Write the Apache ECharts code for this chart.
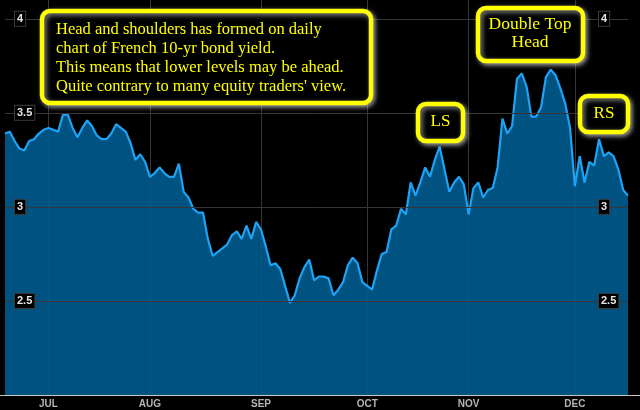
<!DOCTYPE html>
<html>
<head>
<meta charset="utf-8">
<title>French 10-yr bond yield</title>
<script src="https://cdn.jsdelivr.net/npm/echarts@6/dist/echarts.min.js"></script>
<style>
    html,body{margin:0;padding:0;background:#000;}
    #container{width:640px;height:410px;}
</style>
</head>
<body>
<div id="container"></div>
<script>
// daily yield, one value per trading day (late June -> mid Dec)
var yields = [
    3.39,3.40,3.35,3.31,3.30,3.35,3.36,3.39,3.41,3.42,
    3.41,3.40,3.49,3.49,3.42,3.37,3.42,3.46,3.43,3.38,
    3.36,3.36,3.39,3.44,3.42,3.40,3.34,3.25,3.28,3.24,
    3.16,3.18,3.21,3.18,3.16,3.16,3.23,3.08,3.05,2.99,
    2.97,2.97,2.83,2.74,2.76,2.78,2.80,2.85,2.87,2.83,
    2.90,2.83,2.92,2.88,2.79,2.69,2.70,2.67,2.58,2.49,
    2.53,2.62,2.68,2.72,2.61,2.63,2.63,2.62,2.53,2.56,
    2.60,2.69,2.73,2.70,2.60,2.58,2.56,2.66,2.75,2.76,
    2.88,2.90,2.99,2.96,3.13,3.06,3.13,3.21,3.16,3.25,
    3.32,3.20,3.08,3.13,3.16,3.12,2.96,3.10,3.13,3.05,
    3.09,3.10,3.21,3.47,3.39,3.43,3.68,3.71,3.64,3.48,
    3.48,3.53,3.69,3.73,3.70,3.63,3.55,3.42,3.11,3.27,
    3.13,3.24,3.22,3.36,3.27,3.29,3.27,3.20,3.09,3.06
];
// first trading day of each month (index into yields)
var monthLabels = ['JUL','AUG','SEP','OCT','NOV','DEC'];
var monthStarts = [9,30,53,75,96,118];
var yTicks = [2.5,3,3.5,4];

var categories = [];
for (var i=0;i<yields.length;i++){
    var m = monthStarts.indexOf(i);
    categories.push(m>=0 ? monthLabels[m] : 'd'+i);
}

function isMonthStart(idx){
    return monthStarts.indexOf(idx) >= 0;
}

function yLabel(v){
    for (var k=0;k<yTicks.length;k++){
        if (Math.abs(yTicks[k]-v) < 1e-6) return String(yTicks[k]);
    }
    return '';
}

var yLabelStyle = {
    inside: true,
    showMinLabel: false,
    showMaxLabel: false,
    color: '#e6e6e6',
    fontFamily: 'Liberation Sans, Arial, sans-serif',
    fontWeight: 'bold',
    fontSize: 11,
    backgroundColor: '#000',
    borderColor: '#3a3a3a',
    borderWidth: 1,
    padding: [2,2,1,2],
    formatter: yLabel
};

// yellow callout boxes
function callout(x,y,w,h,text,tx,ty,align,size,lh){
    return {
        type: 'group',
        z: 100,
        children: [{
            type: 'rect',
            shape: {x:x, y:y, width:w, height:h, r:8},
            style: {
                fill: '#000',
                stroke: '#ffff00',
                lineWidth: 4.5,
                shadowColor: 'rgba(255,255,255,0.55)',
                shadowBlur: 5,
                shadowOffsetX: 2,
                shadowOffsetY: 2
            },
            z: 100
        },{
            type: 'text',
            x: tx,
            y: ty,
            style: {
                text: text,
                fill: '#ffff00',
                font: size+'px "Liberation Serif", "Times New Roman", serif',
                lineHeight: lh,
                align: align,
                verticalAlign: 'top'
            },
            z: 101
        }]
    };
}

var myChart = echarts.init(document.getElementById('container'));
var option = {
    backgroundColor: '#000',
    animation: false,
    grid: {left:5, right:12, top:0, bottom:15},
    xAxis: {
        type: 'category',
        boundaryGap: false,
        data: categories,
        axisLine: {show:true, lineStyle:{color:'#c8c8c8', width:1}},
        axisTick: {show:false},
        axisLabel: {
            interval: function(idx){ return isMonthStart(idx); },
            color: '#b4b4b4',
            fontFamily: 'Liberation Sans, Arial, sans-serif',
            fontWeight: 'bold',
            fontSize: 10,
            margin: 4
        },
        splitLine: {
            show: true,
            interval: function(idx){ return isMonthStart(idx); },
            lineStyle: {color:'#363636', width:1}
        }
    },
    yAxis: [{
        type: 'value',
        position: 'left',
        min: 2,
        max: 4.1,
        interval: 0.5,
        z: 10,
        axisLine: {show:false},
        axisTick: {show:false},
        axisLabel: echarts.util.merge({margin:10}, yLabelStyle, true),
        // no line on the top edge (4.1)
        splitLine: {show:true, lineStyle:{
            color:['#363636','#363636','#363636','#363636','#363636','rgba(0,0,0,0)'], width:1}}
    },{
        type: 'value',
        position: 'right',
        min: 2,
        max: 4.1,
        interval: 0.5,
        z: 10,
        axisLine: {show:false},
        axisTick: {show:false},
        axisLabel: echarts.util.merge({margin:29, align:'left'}, yLabelStyle, true),
        splitLine: {show:false}
    }],
    series: [{
        type: 'line',
        data: yields,
        symbol: 'none',
        smooth: false,
        lineStyle: {color:'#1ea2f5', width:2.2},
        areaStyle: {color:'rgba(0,92,142,0.9)', opacity:1},
        z: 3
    }],
    graphic: [
        // bottom axis runs the whole width
        {type:'line', shape:{x1:0, y1:395.5, x2:640, y2:395.5}, style:{stroke:'#c8c8c8', lineWidth:1}, z:50},
        callout(42,11,329,92,
            'Head and shoulders has formed on daily\nchart of French 10-yr bond yield.\nThis means that lower levels may be ahead.\nQuite contrary to many equity traders\' view.',
            56,20,'left',16.5,19),
        callout(478,8,105,53,'Double Top\nHead',530,15,'center',17.5,18),
        callout(418,104,45,37,'LS',440.5,113,'center',17,18),
        callout(580,96,48,36,'RS',604,105,'center',17,18)
    ]
};
myChart.setOption(option, true);
</script>
</body>
</html>
